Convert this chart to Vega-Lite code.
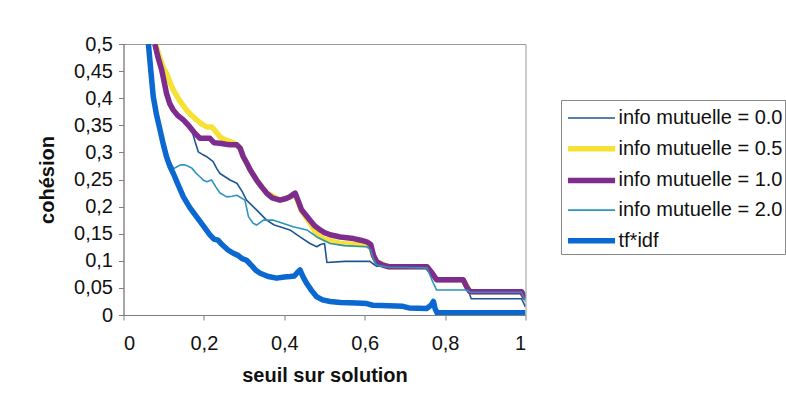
{
  "$schema": "https://vega.github.io/schema/vega-lite/v6.json",
  "width": 402,
  "height": 271,
  "autosize": {"type": "none"},
  "padding": {"left": 123.5, "top": 44, "right": 260.5, "bottom": 99},
  "background": "white",
  "config": {
    "locale": {"number": {"decimal": ",", "thousands": " ", "grouping": [3], "currency": ["", ""]}},
    "font": "Liberation Sans",
    "view": {"stroke": "#999999", "strokeWidth": 1},
    "axis": {
      "grid": false,
      "domainColor": "#808080",
      "tickColor": "#808080",
      "tickSize": 5,
      "labelFont": "Liberation Sans",
      "labelFontSize": 20,
      "labelColor": "#111111",
      "titleFont": "Liberation Sans",
      "titleFontSize": 20,
      "titleFontWeight": "bold",
      "titleColor": "#111111"
    },
    "legend": {
      "orient": "none",
      "legendX": 437.5,
      "legendY": 56,
      "strokeColor": "#888888",
      "padding": 2,
      "symbolType": "M-1.57,0H1.57",
      "symbolSize": 900,
      "symbolOffset": 10.5,
      "labelFont": "Liberation Sans",
      "labelFontSize": 20,
      "labelColor": "#111111",
      "labelOffset": 9,
      "rowPadding": 2.7,
      "labelLimit": 400
    }
  },
  "data": {
    "values": [
      {"s": "info mutuelle = 0.0", "x": 0.078, "y": 0.5},
      {"s": "info mutuelle = 0.0", "x": 0.095, "y": 0.452},
      {"s": "info mutuelle = 0.0", "x": 0.107, "y": 0.409},
      {"s": "info mutuelle = 0.0", "x": 0.124, "y": 0.378},
      {"s": "info mutuelle = 0.0", "x": 0.14, "y": 0.365},
      {"s": "info mutuelle = 0.0", "x": 0.149, "y": 0.36},
      {"s": "info mutuelle = 0.0", "x": 0.16, "y": 0.35},
      {"s": "info mutuelle = 0.0", "x": 0.17, "y": 0.341},
      {"s": "info mutuelle = 0.0", "x": 0.178, "y": 0.32},
      {"s": "info mutuelle = 0.0", "x": 0.186, "y": 0.301},
      {"s": "info mutuelle = 0.0", "x": 0.197, "y": 0.296},
      {"s": "info mutuelle = 0.0", "x": 0.207, "y": 0.292},
      {"s": "info mutuelle = 0.0", "x": 0.223, "y": 0.283},
      {"s": "info mutuelle = 0.0", "x": 0.232, "y": 0.27},
      {"s": "info mutuelle = 0.0", "x": 0.24, "y": 0.261},
      {"s": "info mutuelle = 0.0", "x": 0.265, "y": 0.249},
      {"s": "info mutuelle = 0.0", "x": 0.282, "y": 0.243},
      {"s": "info mutuelle = 0.0", "x": 0.295, "y": 0.228},
      {"s": "info mutuelle = 0.0", "x": 0.306, "y": 0.212},
      {"s": "info mutuelle = 0.0", "x": 0.331, "y": 0.194},
      {"s": "info mutuelle = 0.0", "x": 0.356, "y": 0.175},
      {"s": "info mutuelle = 0.0", "x": 0.375, "y": 0.166},
      {"s": "info mutuelle = 0.0", "x": 0.389, "y": 0.163},
      {"s": "info mutuelle = 0.0", "x": 0.414, "y": 0.157},
      {"s": "info mutuelle = 0.0", "x": 0.439, "y": 0.144},
      {"s": "info mutuelle = 0.0", "x": 0.464, "y": 0.132},
      {"s": "info mutuelle = 0.0", "x": 0.481, "y": 0.126},
      {"s": "info mutuelle = 0.0", "x": 0.49, "y": 0.13},
      {"s": "info mutuelle = 0.0", "x": 0.5, "y": 0.132},
      {"s": "info mutuelle = 0.0", "x": 0.503, "y": 0.115},
      {"s": "info mutuelle = 0.0", "x": 0.506, "y": 0.097},
      {"s": "info mutuelle = 0.0", "x": 0.55, "y": 0.099},
      {"s": "info mutuelle = 0.0", "x": 0.613, "y": 0.099},
      {"s": "info mutuelle = 0.0", "x": 0.62, "y": 0.095},
      {"s": "info mutuelle = 0.0", "x": 0.63, "y": 0.09},
      {"s": "info mutuelle = 0.0", "x": 0.755, "y": 0.089},
      {"s": "info mutuelle = 0.0", "x": 0.77, "y": 0.075},
      {"s": "info mutuelle = 0.0", "x": 0.779, "y": 0.062},
      {"s": "info mutuelle = 0.0", "x": 0.845, "y": 0.062},
      {"s": "info mutuelle = 0.0", "x": 0.86, "y": 0.04},
      {"s": "info mutuelle = 0.0", "x": 0.865, "y": 0.03},
      {"s": "info mutuelle = 0.0", "x": 0.99, "y": 0.03},
      {"s": "info mutuelle = 0.0", "x": 1.0, "y": 0.015},

      {"s": "info mutuelle = 0.5", "x": 0.08, "y": 0.5},
      {"s": "info mutuelle = 0.5", "x": 0.09, "y": 0.475},
      {"s": "info mutuelle = 0.5", "x": 0.1, "y": 0.455},
      {"s": "info mutuelle = 0.5", "x": 0.107, "y": 0.446},
      {"s": "info mutuelle = 0.5", "x": 0.115, "y": 0.43},
      {"s": "info mutuelle = 0.5", "x": 0.124, "y": 0.415},
      {"s": "info mutuelle = 0.5", "x": 0.14, "y": 0.395},
      {"s": "info mutuelle = 0.5", "x": 0.157, "y": 0.378},
      {"s": "info mutuelle = 0.5", "x": 0.17, "y": 0.368},
      {"s": "info mutuelle = 0.5", "x": 0.182, "y": 0.36},
      {"s": "info mutuelle = 0.5", "x": 0.195, "y": 0.352},
      {"s": "info mutuelle = 0.5", "x": 0.207, "y": 0.347},
      {"s": "info mutuelle = 0.5", "x": 0.219, "y": 0.347},
      {"s": "info mutuelle = 0.5", "x": 0.228, "y": 0.34},
      {"s": "info mutuelle = 0.5", "x": 0.24, "y": 0.329},
      {"s": "info mutuelle = 0.5", "x": 0.25, "y": 0.324},
      {"s": "info mutuelle = 0.5", "x": 0.265, "y": 0.32},
      {"s": "info mutuelle = 0.5", "x": 0.28, "y": 0.315},
      {"s": "info mutuelle = 0.5", "x": 0.29, "y": 0.308},
      {"s": "info mutuelle = 0.5", "x": 0.298, "y": 0.292},
      {"s": "info mutuelle = 0.5", "x": 0.315, "y": 0.268},
      {"s": "info mutuelle = 0.5", "x": 0.331, "y": 0.249},
      {"s": "info mutuelle = 0.5", "x": 0.356, "y": 0.225},
      {"s": "info mutuelle = 0.5", "x": 0.389, "y": 0.212},
      {"s": "info mutuelle = 0.5", "x": 0.414, "y": 0.218},
      {"s": "info mutuelle = 0.5", "x": 0.427, "y": 0.222},
      {"s": "info mutuelle = 0.5", "x": 0.443, "y": 0.192},
      {"s": "info mutuelle = 0.5", "x": 0.464, "y": 0.17},
      {"s": "info mutuelle = 0.5", "x": 0.481, "y": 0.148},
      {"s": "info mutuelle = 0.5", "x": 0.5, "y": 0.14},
      {"s": "info mutuelle = 0.5", "x": 0.539, "y": 0.132},
      {"s": "info mutuelle = 0.5", "x": 0.605, "y": 0.129},
      {"s": "info mutuelle = 0.5", "x": 0.615, "y": 0.125},
      {"s": "info mutuelle = 0.5", "x": 0.622, "y": 0.108},
      {"s": "info mutuelle = 0.5", "x": 0.63, "y": 0.098},
      {"s": "info mutuelle = 0.5", "x": 0.66, "y": 0.089},
      {"s": "info mutuelle = 0.5", "x": 0.755, "y": 0.089},
      {"s": "info mutuelle = 0.5", "x": 0.779, "y": 0.065},
      {"s": "info mutuelle = 0.5", "x": 0.845, "y": 0.065},
      {"s": "info mutuelle = 0.5", "x": 0.862, "y": 0.043},
      {"s": "info mutuelle = 0.5", "x": 0.99, "y": 0.043},
      {"s": "info mutuelle = 0.5", "x": 1.0, "y": 0.03},

      {"s": "info mutuelle = 1.0", "x": 0.078, "y": 0.5},
      {"s": "info mutuelle = 1.0", "x": 0.086, "y": 0.475},
      {"s": "info mutuelle = 1.0", "x": 0.095, "y": 0.452},
      {"s": "info mutuelle = 1.0", "x": 0.107, "y": 0.409},
      {"s": "info mutuelle = 1.0", "x": 0.115, "y": 0.39},
      {"s": "info mutuelle = 1.0", "x": 0.124, "y": 0.378},
      {"s": "info mutuelle = 1.0", "x": 0.135, "y": 0.368},
      {"s": "info mutuelle = 1.0", "x": 0.149, "y": 0.36},
      {"s": "info mutuelle = 1.0", "x": 0.165, "y": 0.347},
      {"s": "info mutuelle = 1.0", "x": 0.178, "y": 0.335},
      {"s": "info mutuelle = 1.0", "x": 0.19, "y": 0.326},
      {"s": "info mutuelle = 1.0", "x": 0.2, "y": 0.326},
      {"s": "info mutuelle = 1.0", "x": 0.215, "y": 0.326},
      {"s": "info mutuelle = 1.0", "x": 0.225, "y": 0.318},
      {"s": "info mutuelle = 1.0", "x": 0.24, "y": 0.317},
      {"s": "info mutuelle = 1.0", "x": 0.255, "y": 0.315},
      {"s": "info mutuelle = 1.0", "x": 0.265, "y": 0.314},
      {"s": "info mutuelle = 1.0", "x": 0.282, "y": 0.314},
      {"s": "info mutuelle = 1.0", "x": 0.29, "y": 0.308},
      {"s": "info mutuelle = 1.0", "x": 0.298, "y": 0.292},
      {"s": "info mutuelle = 1.0", "x": 0.307, "y": 0.28},
      {"s": "info mutuelle = 1.0", "x": 0.315, "y": 0.268},
      {"s": "info mutuelle = 1.0", "x": 0.331, "y": 0.249},
      {"s": "info mutuelle = 1.0", "x": 0.345, "y": 0.235},
      {"s": "info mutuelle = 1.0", "x": 0.356, "y": 0.225},
      {"s": "info mutuelle = 1.0", "x": 0.37, "y": 0.216},
      {"s": "info mutuelle = 1.0", "x": 0.389, "y": 0.212},
      {"s": "info mutuelle = 1.0", "x": 0.405, "y": 0.215},
      {"s": "info mutuelle = 1.0", "x": 0.414, "y": 0.218},
      {"s": "info mutuelle = 1.0", "x": 0.427, "y": 0.225},
      {"s": "info mutuelle = 1.0", "x": 0.435, "y": 0.21},
      {"s": "info mutuelle = 1.0", "x": 0.443, "y": 0.194},
      {"s": "info mutuelle = 1.0", "x": 0.455, "y": 0.183},
      {"s": "info mutuelle = 1.0", "x": 0.464, "y": 0.175},
      {"s": "info mutuelle = 1.0", "x": 0.475, "y": 0.165},
      {"s": "info mutuelle = 1.0", "x": 0.489, "y": 0.157},
      {"s": "info mutuelle = 1.0", "x": 0.5, "y": 0.152},
      {"s": "info mutuelle = 1.0", "x": 0.514, "y": 0.148},
      {"s": "info mutuelle = 1.0", "x": 0.539, "y": 0.144},
      {"s": "info mutuelle = 1.0", "x": 0.572, "y": 0.141},
      {"s": "info mutuelle = 1.0", "x": 0.59, "y": 0.138},
      {"s": "info mutuelle = 1.0", "x": 0.605, "y": 0.135},
      {"s": "info mutuelle = 1.0", "x": 0.615, "y": 0.13},
      {"s": "info mutuelle = 1.0", "x": 0.622, "y": 0.11},
      {"s": "info mutuelle = 1.0", "x": 0.63, "y": 0.098},
      {"s": "info mutuelle = 1.0", "x": 0.645, "y": 0.092},
      {"s": "info mutuelle = 1.0", "x": 0.66, "y": 0.089},
      {"s": "info mutuelle = 1.0", "x": 0.755, "y": 0.089},
      {"s": "info mutuelle = 1.0", "x": 0.765, "y": 0.08},
      {"s": "info mutuelle = 1.0", "x": 0.779, "y": 0.065},
      {"s": "info mutuelle = 1.0", "x": 0.845, "y": 0.065},
      {"s": "info mutuelle = 1.0", "x": 0.855, "y": 0.05},
      {"s": "info mutuelle = 1.0", "x": 0.862, "y": 0.043},
      {"s": "info mutuelle = 1.0", "x": 0.99, "y": 0.043},
      {"s": "info mutuelle = 1.0", "x": 1.0, "y": 0.03},

      {"s": "info mutuelle = 2.0", "x": 0.064, "y": 0.5},
      {"s": "info mutuelle = 2.0", "x": 0.076, "y": 0.403},
      {"s": "info mutuelle = 2.0", "x": 0.093, "y": 0.341},
      {"s": "info mutuelle = 2.0", "x": 0.109, "y": 0.292},
      {"s": "info mutuelle = 2.0", "x": 0.125, "y": 0.27},
      {"s": "info mutuelle = 2.0", "x": 0.132, "y": 0.273},
      {"s": "info mutuelle = 2.0", "x": 0.142, "y": 0.277},
      {"s": "info mutuelle = 2.0", "x": 0.153, "y": 0.277},
      {"s": "info mutuelle = 2.0", "x": 0.162, "y": 0.274},
      {"s": "info mutuelle = 2.0", "x": 0.17, "y": 0.271},
      {"s": "info mutuelle = 2.0", "x": 0.18, "y": 0.262},
      {"s": "info mutuelle = 2.0", "x": 0.19, "y": 0.255},
      {"s": "info mutuelle = 2.0", "x": 0.2, "y": 0.248},
      {"s": "info mutuelle = 2.0", "x": 0.207, "y": 0.246},
      {"s": "info mutuelle = 2.0", "x": 0.219, "y": 0.249},
      {"s": "info mutuelle = 2.0", "x": 0.23, "y": 0.236},
      {"s": "info mutuelle = 2.0", "x": 0.24, "y": 0.225},
      {"s": "info mutuelle = 2.0", "x": 0.257, "y": 0.218},
      {"s": "info mutuelle = 2.0", "x": 0.27, "y": 0.219},
      {"s": "info mutuelle = 2.0", "x": 0.282, "y": 0.221},
      {"s": "info mutuelle = 2.0", "x": 0.302, "y": 0.212},
      {"s": "info mutuelle = 2.0", "x": 0.307, "y": 0.195},
      {"s": "info mutuelle = 2.0", "x": 0.311, "y": 0.181},
      {"s": "info mutuelle = 2.0", "x": 0.323, "y": 0.169},
      {"s": "info mutuelle = 2.0", "x": 0.331, "y": 0.166},
      {"s": "info mutuelle = 2.0", "x": 0.348, "y": 0.175},
      {"s": "info mutuelle = 2.0", "x": 0.373, "y": 0.175},
      {"s": "info mutuelle = 2.0", "x": 0.398, "y": 0.169},
      {"s": "info mutuelle = 2.0", "x": 0.422, "y": 0.163},
      {"s": "info mutuelle = 2.0", "x": 0.456, "y": 0.157},
      {"s": "info mutuelle = 2.0", "x": 0.481, "y": 0.144},
      {"s": "info mutuelle = 2.0", "x": 0.514, "y": 0.132},
      {"s": "info mutuelle = 2.0", "x": 0.55, "y": 0.128},
      {"s": "info mutuelle = 2.0", "x": 0.605, "y": 0.126},
      {"s": "info mutuelle = 2.0", "x": 0.615, "y": 0.12},
      {"s": "info mutuelle = 2.0", "x": 0.622, "y": 0.103},
      {"s": "info mutuelle = 2.0", "x": 0.63, "y": 0.092},
      {"s": "info mutuelle = 2.0", "x": 0.66, "y": 0.088},
      {"s": "info mutuelle = 2.0", "x": 0.755, "y": 0.087},
      {"s": "info mutuelle = 2.0", "x": 0.77, "y": 0.06},
      {"s": "info mutuelle = 2.0", "x": 0.779, "y": 0.046},
      {"s": "info mutuelle = 2.0", "x": 0.855, "y": 0.046},
      {"s": "info mutuelle = 2.0", "x": 0.862, "y": 0.042},
      {"s": "info mutuelle = 2.0", "x": 0.99, "y": 0.042},
      {"s": "info mutuelle = 2.0", "x": 1.0, "y": 0.025},

      {"s": "tf*idf", "x": 0.062, "y": 0.5},
      {"s": "tf*idf", "x": 0.068, "y": 0.45},
      {"s": "tf*idf", "x": 0.074, "y": 0.403},
      {"s": "tf*idf", "x": 0.082, "y": 0.37},
      {"s": "tf*idf", "x": 0.091, "y": 0.341},
      {"s": "tf*idf", "x": 0.099, "y": 0.315},
      {"s": "tf*idf", "x": 0.107, "y": 0.292},
      {"s": "tf*idf", "x": 0.115, "y": 0.275},
      {"s": "tf*idf", "x": 0.124, "y": 0.261},
      {"s": "tf*idf", "x": 0.136, "y": 0.24},
      {"s": "tf*idf", "x": 0.149, "y": 0.218},
      {"s": "tf*idf", "x": 0.165, "y": 0.198},
      {"s": "tf*idf", "x": 0.182, "y": 0.181},
      {"s": "tf*idf", "x": 0.2, "y": 0.163},
      {"s": "tf*idf", "x": 0.215, "y": 0.148},
      {"s": "tf*idf", "x": 0.225, "y": 0.14},
      {"s": "tf*idf", "x": 0.235, "y": 0.138},
      {"s": "tf*idf", "x": 0.245, "y": 0.13},
      {"s": "tf*idf", "x": 0.26, "y": 0.12},
      {"s": "tf*idf", "x": 0.273, "y": 0.114},
      {"s": "tf*idf", "x": 0.285, "y": 0.11},
      {"s": "tf*idf", "x": 0.295, "y": 0.104},
      {"s": "tf*idf", "x": 0.306, "y": 0.101},
      {"s": "tf*idf", "x": 0.32, "y": 0.09},
      {"s": "tf*idf", "x": 0.33, "y": 0.082},
      {"s": "tf*idf", "x": 0.34, "y": 0.077},
      {"s": "tf*idf", "x": 0.36, "y": 0.071},
      {"s": "tf*idf", "x": 0.381, "y": 0.068},
      {"s": "tf*idf", "x": 0.4, "y": 0.07},
      {"s": "tf*idf", "x": 0.414, "y": 0.071},
      {"s": "tf*idf", "x": 0.425, "y": 0.072},
      {"s": "tf*idf", "x": 0.432, "y": 0.078},
      {"s": "tf*idf", "x": 0.439, "y": 0.083},
      {"s": "tf*idf", "x": 0.447, "y": 0.07},
      {"s": "tf*idf", "x": 0.456, "y": 0.058},
      {"s": "tf*idf", "x": 0.468, "y": 0.045},
      {"s": "tf*idf", "x": 0.48, "y": 0.034},
      {"s": "tf*idf", "x": 0.495, "y": 0.028},
      {"s": "tf*idf", "x": 0.514, "y": 0.025},
      {"s": "tf*idf", "x": 0.54, "y": 0.023},
      {"s": "tf*idf", "x": 0.58, "y": 0.022},
      {"s": "tf*idf", "x": 0.605, "y": 0.021},
      {"s": "tf*idf", "x": 0.62, "y": 0.018},
      {"s": "tf*idf", "x": 0.66, "y": 0.017},
      {"s": "tf*idf", "x": 0.695, "y": 0.016},
      {"s": "tf*idf", "x": 0.71, "y": 0.013},
      {"s": "tf*idf", "x": 0.754, "y": 0.012},
      {"s": "tf*idf", "x": 0.765, "y": 0.018},
      {"s": "tf*idf", "x": 0.771, "y": 0.025},
      {"s": "tf*idf", "x": 0.775, "y": 0.012},
      {"s": "tf*idf", "x": 0.78, "y": 0.004},
      {"s": "tf*idf", "x": 1.0, "y": 0.004}
    ]
  },
  "encoding": {
    "x": {
      "field": "x", "type": "quantitative",
      "scale": {"domain": [0, 1], "nice": false},
      "axis": {"values": [0, 0.2, 0.4, 0.6, 0.8, 1], "format": "~g", "title": "seuil sur solution", "labelPadding": 13, "titlePadding": 12}
    },
    "y": {
      "field": "y", "type": "quantitative",
      "scale": {"domain": [0, 0.5], "nice": false},
      "axis": {"values": [0, 0.05, 0.1, 0.15, 0.2, 0.25, 0.3, 0.35, 0.4, 0.45, 0.5], "format": "~g", "title": "cohésion", "labelPadding": 6, "titlePadding": 16}
    },
    "color": {
      "field": "s", "type": "nominal", "title": null,
      "scale": {
        "domain": ["info mutuelle = 0.0", "info mutuelle = 0.5", "info mutuelle = 1.0", "info mutuelle = 2.0", "tf*idf"],
        "range": ["#1f5590", "#f5e234", "#7e2d8e", "#2b93bd", "#0a68d0"]
      }
    },
    "strokeWidth": {
      "field": "s", "type": "nominal", "title": null,
      "scale": {
        "type": "ordinal",
        "domain": ["info mutuelle = 0.0", "info mutuelle = 0.5", "info mutuelle = 1.0", "info mutuelle = 2.0", "tf*idf"],
        "range": [1.6, 5.5, 5.5, 1.6, 5.5]
      }
    }
  },
  "layer": [
    {"transform": [{"filter": "datum.s === 'info mutuelle = 0.0'"}], "mark": {"type": "line", "clip": true, "strokeJoin": "round"}},
    {"transform": [{"filter": "datum.s === 'info mutuelle = 0.5'"}], "mark": {"type": "line", "clip": true, "strokeJoin": "round"}},
    {"transform": [{"filter": "datum.s === 'info mutuelle = 1.0'"}], "mark": {"type": "line", "clip": true, "strokeJoin": "round"}},
    {"transform": [{"filter": "datum.s === 'info mutuelle = 2.0'"}], "mark": {"type": "line", "clip": true, "strokeJoin": "round"}},
    {"transform": [{"filter": "datum.s === 'tf*idf'"}], "mark": {"type": "line", "clip": true, "strokeJoin": "round"}}
  ]
}
